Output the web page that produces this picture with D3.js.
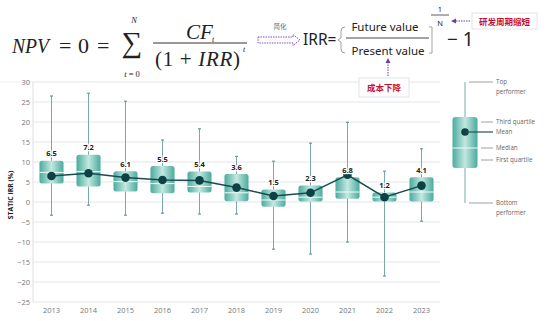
<!DOCTYPE html>
<html><head><meta charset="utf-8">
<script src="https://cdn.jsdelivr.net/npm/d3@7"></script>
<style>
html,body{margin:0;padding:0;background:#fff;}
svg{display:block;}
</style></head>
<body>
<svg id="c" width="550" height="321"></svg>
<script>
const years = ["2013","2014","2015","2016","2017","2018","2019","2020","2021","2022","2023"];
const whiskerHigh = [26.5, 27.2, 25.2, 15.5, 18.3, 11.4, 10.2, 14.7, 19.9, 7.7, 13.3];
const q3 = [10.3, 11.8, 7.7, 9.0, 7.6, 7.0, 3.1, 4.1, 6.2, 2.4, 6.2];
const median = [7.4, 7.6, 5.1, 4.6, 3.9, 2.3, 0.5, 1.2, 2.5, 1.2, 2.5];
const q1 = [4.6, 3.9, 2.6, 2.2, 2.4, 0.2, -1.2, 0.1, 0.8, 0.1, 0.1];
const whiskerLow = [-3.3, -0.8, -3.3, -2.8, -3.0, -3.0, -11.8, -13.0, -10.0, -18.5, -4.8];
const meanVals = [6.5, 7.2, 6.1, 5.5, 5.4, 3.6, 1.5, 2.3, 6.8, 1.2, 4.1];
const yTicks = [30, 25, 20, 15, 10, 5, 0, -5, -10, -15, -20, -25];
const legendLabels = [["Top","performer"],["Third quartile"],["Mean"],["Median"],["First quartile"],["Bottom","performer"]];

const data = years.map((y,i)=>({year:y, hi:whiskerHigh[i], q3:q3[i], med:median[i], q1:q1[i], lo:whiskerLow[i], mean:meanVals[i]}));

const svg = d3.select("#c");
const defs = svg.append("defs");
const grad = defs.append("linearGradient").attr("id","boxg").attr("x1","0").attr("x2","1").attr("y1","0").attr("y2","0");
grad.append("stop").attr("offset","0%").attr("stop-color","#4aab9d");
grad.append("stop").attr("offset","50%").attr("stop-color","#c3e8e1");
grad.append("stop").attr("offset","100%").attr("stop-color","#4aab9d");

const x = d3.scaleBand().domain(years).range([33,440]).paddingInner(0.35).paddingOuter(0.175);
const y = d3.scaleLinear().domain([-25,30]).range([302,82]);

const sans = "'Open Sans', 'Noto Sans', sans-serif";

// separator line
svg.append("line").attr("x1",0).attr("x2",33).attr("y1",y(30)).attr("y2",y(30)).attr("stroke","#eceef0").attr("stroke-width",1);

// gridlines
svg.append("g").selectAll("line").data(yTicks).join("line")
  .attr("x1",33).attr("x2",440).attr("y1",d=>y(d)).attr("y2",d=>y(d))
  .attr("stroke","#e3e5e8").attr("stroke-width",1.2);
svg.append("line").attr("x1",33).attr("x2",33).attr("y1",y(30)).attr("y2",y(-25)).attr("stroke","#e3e5e8").attr("stroke-width",1.2);

// y axis
const yAxis = svg.append("g").attr("transform","translate(30,0)")
  .call(d3.axisLeft(y).tickValues(yTicks).tickSize(0).tickPadding(0).tickFormat(d3.format("d")));
yAxis.select(".domain").remove();
yAxis.selectAll("text").attr("font-family",sans).attr("font-size",7.5).attr("fill","#777");

// x axis
const xAxis = svg.append("g").attr("transform","translate(0,305)")
  .call(d3.axisBottom(x).tickSize(0).tickPadding(3));
xAxis.select(".domain").remove();
xAxis.selectAll("text").attr("font-family",sans).attr("font-size",7.5).attr("fill","#777");

// y label
svg.append("text").attr("transform","translate(13,"+((y(30)+y(-25))/2+ 3)+") rotate(-90)")
  .attr("text-anchor","middle").attr("font-family",sans).attr("font-weight","bold").attr("font-size",6.8).attr("fill","#222")
  .text("STATIC IRR (%)");

const bw = x.bandwidth();
const cx = d=>x(d.year)+bw/2;
const g = svg.append("g");

// whiskers
g.selectAll(".wh").data(data).join("line").attr("class","wh")
  .attr("x1",cx).attr("x2",cx).attr("y1",d=>y(d.hi)).attr("y2",d=>y(d.lo))
  .attr("stroke","#7aa9ab").attr("stroke-width",1);
g.selectAll(".capH").data(data).join("line").attr("class","capH")
  .attr("x1",d=>cx(d)-1.5).attr("x2",d=>cx(d)+1.5).attr("y1",d=>y(d.hi)).attr("y2",d=>y(d.hi))
  .attr("stroke","#6a9a9c").attr("stroke-width",1.2);
g.selectAll(".capL").data(data).join("line").attr("class","capL")
  .attr("x1",d=>cx(d)-1.5).attr("x2",d=>cx(d)+1.5).attr("y1",d=>y(d.lo)).attr("y2",d=>y(d.lo))
  .attr("stroke","#6a9a9c").attr("stroke-width",1.2);

// boxes
g.selectAll(".box").data(data).join("rect").attr("class","box")
  .attr("x",d=>x(d.year)).attr("width",bw)
  .attr("y",d=>y(d.q3)).attr("height",d=>y(d.q1)-y(d.q3))
  .attr("rx",2.5).attr("fill","url(#boxg)");
g.selectAll(".med").data(data).join("line").attr("class","med")
  .attr("x1",d=>x(d.year)).attr("x2",d=>x(d.year)+bw).attr("y1",d=>y(d.med)).attr("y2",d=>y(d.med))
  .attr("stroke","#f2fbf9").attr("stroke-width",1);

// mean line
const line = d3.line().x(cx).y(d=>y(d.mean));
g.append("path").datum(data).attr("d",line).attr("fill","none").attr("stroke","#1d4a4d").attr("stroke-width",1.5);
g.selectAll(".mdot").data(data).join("circle").attr("class","mdot")
  .attr("cx",cx).attr("cy",d=>y(d.mean)).attr("r",4.3).attr("fill","#0c4244");

// labels
g.selectAll(".lbl").data(data).join("text").attr("class","lbl")
  .attr("x",cx).attr("y",d=>y(d.q3)-4.5).attr("text-anchor","middle")
  .attr("font-family",sans).attr("font-weight","bold").attr("font-size",7.5).attr("fill","#222")
  .attr("stroke","#fff").attr("stroke-width",2.5).attr("paint-order","stroke")
  .text(d=>d3.format(".1f")(d.mean));

// legend
const L = svg.append("g");
const lx = 465, lTop = 82, lBot = 203, bTop = 117, bBot = 168, lMean = 132, lMed = 148;
L.append("line").attr("x1",lx).attr("x2",lx).attr("y1",lTop).attr("y2",lBot).attr("stroke","#7aa9ab").attr("stroke-width",1);
L.append("rect").attr("x",lx-12.5).attr("y",bTop).attr("width",25).attr("height",bBot-bTop).attr("rx",3).attr("fill","url(#boxg)");
L.append("line").attr("x1",lx-12.5).attr("x2",lx+12.5).attr("y1",lMed).attr("y2",lMed).attr("stroke","#f2fbf9").attr("stroke-width",1);
L.append("circle").attr("cx",lx).attr("cy",lMean).attr("r",3.8).attr("fill","#0c4244");
const legRows = [
  {y:lTop, x1:469, lines:legendLabels[0]},
  {y:122, x1:481, lines:legendLabels[1]},
  {y:lMean, x1:lx, lines:legendLabels[2]},
  {y:lMed, x1:481, lines:legendLabels[3]},
  {y:160, x1:481, lines:legendLabels[4]},
  {y:lBot, x1:469, lines:legendLabels[5]}
];
legRows.forEach(r=>{
  L.append("line").attr("x1",r.x1).attr("x2",493).attr("y1",r.y).attr("y2",r.y).attr("stroke",r.x1===lx?"#2c4f52":"#888").attr("stroke-width",r.x1===lx?1.2:0.8);
  const t = L.append("text").attr("x",496).attr("y",r.y+2).attr("font-family",sans).attr("font-size",6.2).attr("fill","#666");
  r.lines.forEach((s,i)=>t.append("tspan").attr("x",496).attr("dy",i===0?0:10).text(s));
});

// ---- formula ----
const F = svg.append("g");
const serif = "'Liberation Serif','DejaVu Serif',serif";
F.append("text").attr("x",12).attr("y",53).attr("font-family",serif).attr("font-style","italic").attr("font-size",22)
  .attr("textLength",37).attr("lengthAdjust","spacingAndGlyphs").attr("fill","#222").text("NPV");
F.append("text").attr("x",59).attr("y",53).attr("font-family",serif).attr("font-size",22).attr("fill","#222").text("=");
F.append("text").attr("x",78).attr("y",53).attr("font-family",serif).attr("font-size",22).attr("fill","#222").text("0");
F.append("text").attr("x",97).attr("y",53).attr("font-family",serif).attr("font-size",22).attr("fill","#222").text("=");
F.append("text").attr("x",132).attr("y",52).attr("text-anchor","middle").attr("font-family",serif).attr("font-size",29).attr("fill","#222").text("∑");
F.append("text").attr("x",134).attr("y",23).attr("text-anchor","middle").attr("font-family",serif).attr("font-style","italic").attr("font-size",8.5).attr("fill","#222").text("N");
F.append("text").attr("x",132).attr("y",77).attr("text-anchor","middle").attr("font-family",serif).attr("font-size",8.5).attr("fill","#222")
  .html("<tspan font-style='italic'>t</tspan> = 0");
F.append("text").attr("x",186).attr("y",39).attr("font-family",serif).attr("font-style","italic").attr("font-size",21).attr("fill","#222").text("CF");
F.append("text").attr("x",212).attr("y",42).attr("font-family",serif).attr("font-style","italic").attr("font-size",8).attr("fill","#222").text("t");
F.append("line").attr("x1",153).attr("x2",247).attr("y1",43).attr("y2",43).attr("stroke","#333").attr("stroke-width",1);
F.append("text").attr("x",155).attr("y",66).attr("font-family",serif).attr("font-size",21).attr("fill","#222")
  .attr("textLength",85).attr("lengthAdjust","spacing")
  .html("(1 + <tspan font-style='italic'>IRR</tspan>)");
F.append("text").attr("x",243).attr("y",52).attr("font-family",serif).attr("font-style","italic").attr("font-size",8).attr("fill","#222").text("t");

// 简化 arrow
F.append("text").attr("x",280).attr("y",29).attr("text-anchor","middle").attr("font-family","'Noto Sans CJK SC'").attr("font-size",6.5).attr("fill","#666").text("简化");
F.append("path").attr("d","M258,37 H293 V34.5 L300,40 L293,45.5 V43 H258 Z").attr("fill","none").attr("stroke","#8b4fc4").attr("stroke-width",1).attr("stroke-dasharray","1.5,1");

const sans2 = "'Noto Sans','Open Sans',sans-serif";
F.append("text").attr("x",303).attr("y",45).attr("font-family",sans2).attr("font-size",15.5).attr("fill","#222").text("IRR=");
F.append("path").attr("d","M345,27 Q341,27 341,31 V38 L338,40 L341,42 V49 Q341,53 345,53").attr("fill","none").attr("stroke","#999").attr("stroke-width",0.9);
F.append("path").attr("d","M429,27 H432 V53 H429").attr("fill","none").attr("stroke","#999").attr("stroke-width",0.9);
F.append("text").attr("x",385).attr("y",31).attr("text-anchor","middle").attr("font-family",sans2).attr("font-size",11.5).attr("fill","#222").text("Future value");
F.append("line").attr("x1",346).attr("x2",429).attr("y1",38).attr("y2",38).attr("stroke","#333").attr("stroke-width",0.9);
F.append("text").attr("x",388).attr("y",55).attr("text-anchor","middle").attr("font-family",sans2).attr("font-size",11.5).attr("fill","#222").text("Present value");
F.append("text").attr("x",440).attr("y",12).attr("text-anchor","middle").attr("font-family",sans2).attr("font-size",7.5).attr("fill","#222").text("1");
F.append("line").attr("x1",431).attr("x2",449).attr("y1",15).attr("y2",15).attr("stroke","#333").attr("stroke-width",0.8);
F.append("text").attr("x",440).attr("y",26).attr("text-anchor","middle").attr("font-family",sans2).attr("font-size",7.5).attr("fill","#222").text("N");
F.append("text").attr("x",447).attr("y",46).attr("font-family",sans2).attr("font-size",19).attr("fill","#222").text("− 1");

// red boxes
F.append("rect").attr("x",472).attr("y",13).attr("width",65).attr("height",16).attr("fill","#fff").attr("stroke","#d5dce6").attr("stroke-width",0.8);
F.append("text").attr("x",504.5).attr("y",24.5).attr("text-anchor","middle").attr("font-family","'Noto Sans CJK SC'").attr("font-weight","bold").attr("font-size",8.5).attr("fill","#c8102e").text("研发周期缩短");
F.append("line").attr("x1",470).attr("x2",455).attr("y1",21).attr("y2",21).attr("stroke","#6b3fa8").attr("stroke-width",1).attr("stroke-dasharray","1.5,1");
F.append("path").attr("d","M451,21 L456,18.5 L456,23.5 Z").attr("fill","#6b3fa8");

F.append("rect").attr("x",359).attr("y",78).attr("width",50).attr("height",19).attr("fill","#fff").attr("stroke","#d5dce6").attr("stroke-width",0.8);
F.append("text").attr("x",384).attr("y",91).attr("text-anchor","middle").attr("font-family","'Noto Sans CJK SC'").attr("font-weight","bold").attr("font-size",8.5).attr("fill","#c8102e").text("成本下降");
F.append("line").attr("x1",388).attr("x2",388).attr("y1",76).attr("y2",62).attr("stroke","#6b3fa8").attr("stroke-width",1).attr("stroke-dasharray","1.5,1");
F.append("path").attr("d","M388,58 L385.5,63 L390.5,63 Z").attr("fill","#6b3fa8");
</script>
</body></html>
